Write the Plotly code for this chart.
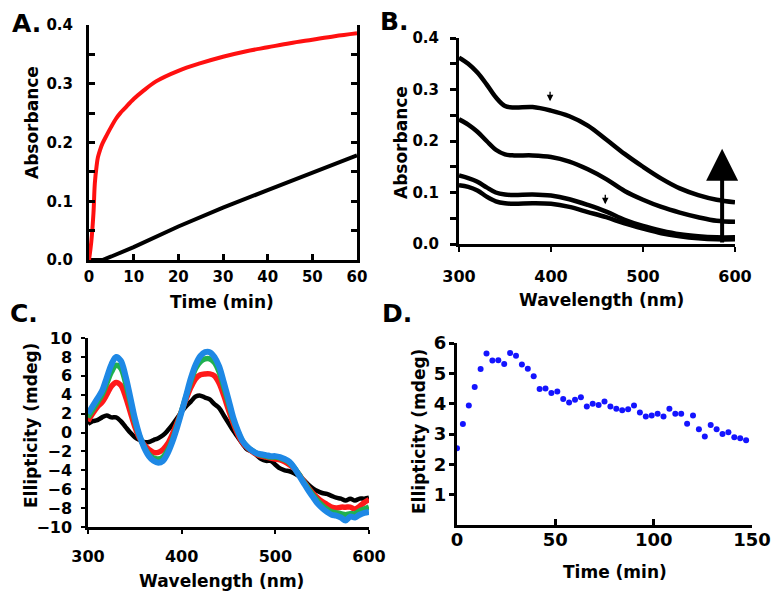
import plotly.graph_objects as go

W, H = 771, 591

# ---------------- Panel A data ----------------
a_time_red = [0, 0.5, 1, 1.3, 1.7, 2, 2.5, 3, 4, 5, 6, 7, 8, 10, 12, 15, 20, 25, 30, 35, 40, 45, 50, 55, 60]
a_abs_red = [0, 0.03, 0.08, 0.13, 0.16, 0.175, 0.188, 0.198, 0.213, 0.227, 0.24, 0.25, 0.258, 0.274,
             0.287, 0.304, 0.322, 0.335, 0.346, 0.355, 0.362, 0.369, 0.375, 0.381, 0.386]
a_time_black = [0, 3, 5, 10, 20, 30, 40, 50, 60]
a_abs_black = [0, 0, 0.006, 0.022, 0.057, 0.089, 0.119, 0.149, 0.178]

# ---------------- Panel B data ----------------
b_wavelength = [300, 310, 320, 330, 340, 350, 360, 380, 400, 420, 440, 460, 480, 500, 520, 540, 560, 580, 600]
b_spec1 = [0.362, 0.350, 0.333, 0.310, 0.285, 0.268, 0.265, 0.266, 0.259, 0.248, 0.230, 0.203, 0.175,
           0.150, 0.127, 0.108, 0.095, 0.086, 0.081]
b_spec2 = [0.242, 0.232, 0.218, 0.200, 0.183, 0.174, 0.172, 0.172, 0.169, 0.160, 0.145, 0.126, 0.103,
           0.086, 0.072, 0.061, 0.052, 0.045, 0.043]
b_spec3 = [0.133, 0.128, 0.121, 0.110, 0.100, 0.096, 0.095, 0.096, 0.094, 0.087, 0.076, 0.063, 0.047,
           0.035, 0.026, 0.019, 0.015, 0.013, 0.013]
b_spec4 = [0.114, 0.111, 0.104, 0.092, 0.083, 0.079, 0.078, 0.079, 0.078, 0.072, 0.062, 0.052, 0.040,
           0.030, 0.021, 0.015, 0.011, 0.009, 0.009]
b_small_arrows = [(399, 0.289), (459, 0.089)]
b_big_arrow_x = 586
b_big_arrow_top = 0.185

# ---------------- Panel C data ----------------
c_wavelength = list(range(300, 601, 5))
c_black = [0.9, 1.2, 1.3, 1.6, 1.8, 1.6, 1.6, 1.2, 0.6, 0.0, -0.5, -0.8, -1.0, -1.0, -0.8, -0.6, -0.3, 0.2,
           0.8, 1.5, 2.2, 2.8, 3.3, 3.8, 3.9, 3.7, 3.5, 3.0, 2.6, 1.8, 1.0, 0.2, -0.5, -1.2, -1.8, -2.0,
           -2.4, -2.8, -3.0, -3.0, -3.4, -3.8, -4.0, -4.1, -4.3, -4.6, -5.0, -5.5, -5.9, -6.2, -6.4,
           -6.5, -6.7, -6.9, -7.0, -7.2, -7.0, -7.2, -7.0, -7.0, -6.9]
c_red = [1.2, 2.0, 2.7, 3.2, 4.0, 4.9, 5.3, 5.0, 3.8, 2.2, 0.6, -0.6, -1.3, -1.8, -2.1, -2.1, -1.8, -1.2,
         -0.2, 1.0, 2.3, 3.6, 4.8, 5.7, 6.1, 6.2, 6.2, 6.0, 5.2, 3.9, 2.4, 1.0, -0.2, -1.1, -1.6, -2.0,
         -2.3, -2.5, -2.6, -2.7, -2.8, -2.9, -3.1, -3.4, -3.8, -4.4, -5.1, -5.8, -6.4, -6.9, -7.3,
         -7.6, -7.9, -8.0, -7.9, -7.9, -7.9, -8.1, -7.8, -7.4, -7.1]
c_green = [1.6, 2.4, 3.2, 4.0, 5.2, 6.4, 7.1, 6.8, 5.3, 3.3, 1.2, -0.4, -1.5, -2.3, -2.7, -2.8, -2.6, -1.9,
           -0.8, 0.7, 2.3, 3.9, 5.5, 6.8, 7.5, 7.8, 7.8, 7.4, 6.4, 4.8, 3.1, 1.4, 0.1, -0.9, -1.5, -1.9,
           -2.2, -2.4, -2.5, -2.6, -2.6, -2.7, -2.9, -3.2, -3.7, -4.4, -5.2, -5.9, -6.6, -7.2, -7.7,
           -8.1, -8.4, -8.5, -8.6, -8.7, -8.6, -8.6, -8.3, -8.1, -7.9]
c_blue = [2.0, 2.8, 3.6, 4.4, 5.8, 7.2, 8.0, 7.6, 6.0, 3.8, 1.5, -0.3, -1.6, -2.5, -3.0, -3.2, -3.0, -2.2,
          -1.0, 0.5, 2.2, 4.0, 5.8, 7.2, 8.1, 8.5, 8.5, 8.0, 7.0, 5.3, 3.5, 1.6, 0.2, -0.9, -1.5, -1.9,
          -2.2, -2.3, -2.4, -2.5, -2.5, -2.6, -2.8, -3.1, -3.7, -4.5, -5.3, -6.1, -6.8, -7.5, -8.0,
          -8.4, -8.7, -8.8, -9.0, -9.3, -8.9, -9.0, -8.7, -8.5, -8.4]

# ---------------- Panel D data ----------------
d_time = [0, 3, 6, 9, 12, 15, 18, 21, 24, 27, 30, 33, 36, 39, 42, 45, 48, 51, 54, 57, 60, 63, 66, 69,
          72, 75, 78, 81, 84, 87, 90, 93, 96, 99, 102, 105, 108, 111, 114, 117, 120, 123, 126, 129,
          132, 135, 138, 141, 144, 147]
d_ellip = [2.53, 3.33, 3.94, 4.55, 5.14, 5.65, 5.42, 5.43, 5.31, 5.67, 5.58, 5.29, 5.15, 4.90, 4.48,
           4.50, 4.35, 4.40, 4.15, 4.04, 4.13, 4.21, 3.91, 4.00, 3.96, 4.07, 3.91, 3.83, 3.78, 3.82,
           3.94, 3.71, 3.58, 3.61, 3.67, 3.58, 3.83, 3.67, 3.67, 3.34, 3.61, 3.16, 2.92, 3.30, 3.16,
           3.00, 3.06, 2.89, 2.86, 2.79]


def px(x):
    return x / W


def py(y):
    return 1 - y / H


FONT = "DejaVu Sans"


def tfont(size):
    return dict(family=FONT, size=size, color="black", weight="bold")


fig = go.Figure()

# Panel A
fig.add_trace(go.Scatter(x=a_time_black, y=a_abs_black, mode="lines", line=dict(color="black", width=4),
                         xaxis="x", yaxis="y", showlegend=False))
fig.add_trace(go.Scatter(x=a_time_red, y=a_abs_red, mode="lines", line=dict(color="#ff1010", width=4, shape="spline"),
                         xaxis="x", yaxis="y", showlegend=False))

# Panel B
for s in [b_spec1, b_spec2, b_spec3, b_spec4]:
    fig.add_trace(go.Scatter(x=b_wavelength, y=s, mode="lines", line=dict(color="black", width=4.5, shape="spline"),
                             xaxis="x2", yaxis="y2", showlegend=False))

# Panel C
for s, col, wdt in [(c_black, "black", 4.5), (c_red, "#ff1a1a", 5.5), (c_green, "#20b050", 5.5), (c_blue, "#1e88e5", 6)]:
    fig.add_trace(go.Scatter(x=c_wavelength, y=s, mode="lines", line=dict(color=col, width=wdt, shape="spline"),
                             xaxis="x3", yaxis="y3", showlegend=False))

# Panel D
fig.add_trace(go.Scatter(x=d_time, y=d_ellip, mode="markers", marker=dict(color="#1414ff", size=6),
                         xaxis="x4", yaxis="y4", showlegend=False, cliponaxis=False))

axis_common = dict(showgrid=False, zeroline=False, showline=True, linecolor="black", tickcolor="black",
                   fixedrange=True, automargin=False)

fig.update_layout(
    width=W, height=H, margin=dict(l=0, r=0, t=0, b=0, autoexpand=False),
    paper_bgcolor="white", plot_bgcolor="white",
    xaxis=dict(axis_common, domain=[px(89), px(357)], range=[0, 60], anchor="y", linewidth=3,
               tickvals=[0, 10, 20, 30, 40, 50, 60], ticks="inside", ticklen=6, tickwidth=2.5,
               tickfont=tfont(15), ticklabelstandoff=1),
    yaxis=dict(axis_common, domain=[py(260), py(25)], range=[0, 0.4], anchor="x", linewidth=3,
               tickvals=[0, 0.1, 0.2, 0.3, 0.4], ticktext=["0.0", "0.1", "0.2", "0.3", "0.4"],
               ticks="inside", ticklen=6, tickwidth=2.5, mirror="allticks",
               minor=dict(tickvals=[0.05, 0.15, 0.25, 0.35], ticks="inside", ticklen=6, tickwidth=2.5,
                          tickcolor="black"),
               tickfont=tfont(15), ticklabelstandoff=10),
    xaxis2=dict(axis_common, domain=[px(459), px(735)], range=[300, 600], anchor="y2", linewidth=3,
                tickvals=[300, 400, 500, 600], ticks="outside", ticklen=5, tickwidth=2,
                tickfont=tfont(16), ticklabelstandoff=11),
    yaxis2=dict(axis_common, domain=[py(244), py(38)], range=[0, 0.4], anchor="x2", linewidth=3,
                tickvals=[0, 0.1, 0.2, 0.3, 0.4], ticktext=["0.0", "0.1", "0.2", "0.3", "0.4"],
                ticks="outside", ticklen=6, tickwidth=2.5,
                minor=dict(tickvals=[0.05, 0.15, 0.25, 0.35], ticks="outside", ticklen=6, tickwidth=2.5,
                           tickcolor="black"),
                tickfont=tfont(15), ticklabelstandoff=8),
    xaxis3=dict(axis_common, domain=[px(88), px(369)], range=[300, 600], anchor="y3", linewidth=2.5,
                tickvals=[300, 400, 500, 600], ticks="outside", ticklen=4, tickwidth=2,
                tickfont=tfont(16), ticklabelstandoff=9),
    yaxis3=dict(axis_common, domain=[py(527), py(338)], range=[-10, 10], anchor="x3", linewidth=2.5,
                tickvals=[-10, -8, -6, -4, -2, 0, 2, 4, 6, 8, 10], ticks="outside", ticklen=4, tickwidth=2,
                tickfont=tfont(16), ticklabelstandoff=6),
    xaxis4=dict(axis_common, domain=[px(457), px(752)], range=[0, 150], anchor="y4", linewidth=3,
                tickvals=[0, 50, 100, 150], ticks="inside", ticklen=6, tickwidth=2.5,
                tickfont=tfont(18), ticklabelstandoff=-4),
    yaxis4=dict(axis_common, domain=[py(525), py(343)], range=[0, 6], anchor="x4", linewidth=3,
                tickvals=[1, 2, 3, 4, 5, 6], ticks="outside", ticklen=5, tickwidth=2.5,
                tickfont=tfont(18), ticklabelstandoff=-1),
)

ann = []
# panel letters
for txt, x, y in [("A.", 10, 23), ("B.", 378, 22), ("C.", 8, 313), ("D.", 380, 313)]:
    ann.append(dict(text=txt, x=px(x), y=py(y), xref="paper", yref="paper", xanchor="left", yanchor="middle",
                    showarrow=False, font=dict(family=FONT, size=25, color="black", weight="bold")))
# axis titles
for txt, x, y, ang in [("Absorbance", 32, 123, -90), ("Time (min)", 222, 302, 0),
                       ("Absorbance", 401, 143, -90), ("Wavelength (nm)", 601, 300, 0),
                       ("Ellipticity (mdeg)", 31, 426, -90), ("Wavelength (nm)", 222, 581, 0),
                       ("Ellipticity (mdeg)", 419, 431, -90), ("Time (min)", 615, 572, 0)]:
    ann.append(dict(text=txt, x=px(x), y=py(y), xref="paper", yref="paper", xanchor="center", yanchor="middle",
                    textangle=ang, showarrow=False, font=dict(family=FONT, size=17, color="black", weight="bold")))
# small arrows in B
for ax_, ay_ in b_small_arrows:
    ann.append(dict(x=ax_, y=ay_ - 0.012, xref="x2", yref="y2", ax=0, ay=-11, showarrow=True, text="",
                    arrowhead=2, arrowsize=1, arrowwidth=1.3, arrowcolor="black"))
# big arrow in B
ann.append(dict(x=b_big_arrow_x, y=b_big_arrow_top, xref="x2", yref="y2", ax=b_big_arrow_x, ay=0,
                axref="x2", ayref="y2", showarrow=True, text="", arrowhead=2, arrowsize=1.6,
                arrowwidth=4, arrowcolor="black"))

fig.update_layout(annotations=ann)

fig.write_html("out.html", config={"displayModeBar": False},
               post_script="document.body.style.margin='0';document.body.style.overflow='hidden';")
